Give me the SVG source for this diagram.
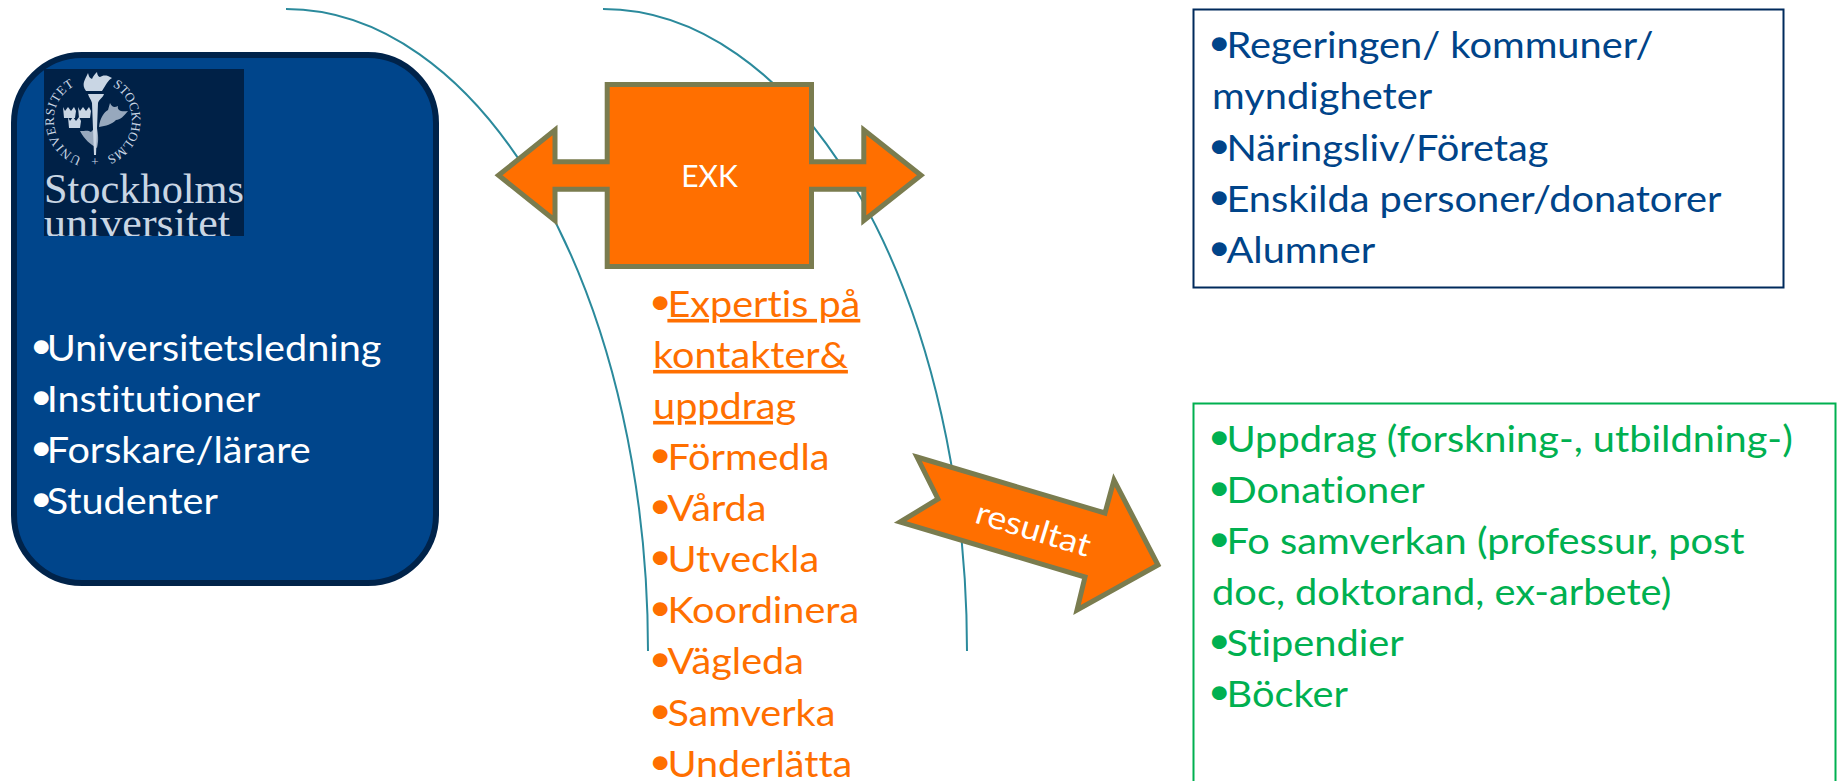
<svg xmlns="http://www.w3.org/2000/svg" width="1837" height="781" viewBox="0 0 1837 781">
<style>
text{font-family:"Lato","Carlito","Liberation Sans",sans-serif;font-size:36px;font-variant-ligatures:none}
.u{text-decoration:underline}
.w{fill:#fff}.b{fill:#004489}.o{fill:#ff6f00}.g{fill:#00b050}
.shape{fill:#ff6f00;stroke:#7a7c4f;stroke-width:5;stroke-linejoin:miter;stroke-miterlimit:8}
.curve{fill:none;stroke:#2b8a9c;stroke-width:2}
.seal{font-family:"Liberation Serif",serif;font-size:13px;fill:#c9d6e4}
.word{font-family:"Liberation Serif",serif;font-size:42px;fill:#c9d6e4}
.lg{fill:#c9d6e4}
</style>
<defs><clipPath id="lc"><rect x="44" y="69" width="200" height="167"/></clipPath>
<path id="sealpath" d="M81.600 157.300A39 39 0 1 1 106.300 156.600"/></defs>
<g id="connectors">
<path class="curve" d="M286 9A362 642 0 0 1 648 651"/>
<path class="curve" d="M603 9A364 642 0 0 1 967 651"/>
</g>
<g id="node-university">
<rect x="14" y="55" width="422" height="528" rx="68" fill="#00458b" stroke="#00234a" stroke-width="6"/>
<g clip-path="url(#lc)">
<rect x="44" y="69" width="200" height="167" fill="#002147"/>
<text class="seal" letter-spacing="0.7"><textPath href="#sealpath">UNIVERSITET</textPath></text>
<text class="seal"><textPath href="#sealpath" startOffset="131">STOCKHOLMS</textPath></text>
<text class="seal" x="95" y="166" text-anchor="middle">+</text>
<path class="lg" d="M88 94H104C103 98 99 99 98 103L96 155H94L92 103C91 99 89 98 88 94Z"/>
<path class="lg" d="M86 91C81 84 85 80 88 73C89 77 90 78 92 79C93 76 95 74 97 72C97 75 99 77 100 77C102 76 104 75 108 76L112 78C108 80 106 85 102 91Z"/>
<path class="lg" opacity=".75" d="M99 127C100 118 104 112 108 110L110 103C112 107 114 108 118 106C117 110 120 112 128 111C124 116 120 120 116 120C112 124 106 126 99 127ZM97 148C90 144 85 140 80 131C86 131 88 130 91 132C94 128 96 130 97 128C98 134 99 140 97 148Z"/>
<path class="lg" d="M63 107l2 4l3-4l3 4l3-4l2 4l-1 7h-11ZM78 107l2 4l3-4l3 4l3-4l2 4l-1 7h-11ZM68 117l2 4l3-4l3 4l3-4l2 4l-1 7h-11Z"/>
<text class="word" x="44" y="203" textLength="200" lengthAdjust="spacingAndGlyphs">Stockholms</text>
<text class="word" x="44" y="237" textLength="186" lengthAdjust="spacingAndGlyphs">universitet</text>
</g>
<g class="w" transform="translate(33 0) scale(1.1 1)">
<text y="361"><tspan x="-3" dy="-3">•</tspan><tspan x="12.500" dy="3">Universitetsledning</tspan></text>
<text y="412"><tspan x="-3" dy="-3">•</tspan><tspan x="12.500" dy="3">Institutioner</tspan></text>
<text y="463"><tspan x="-3" dy="-3">•</tspan><tspan x="12.500" dy="3">Forskare/lärare</tspan></text>
<text y="514"><tspan x="-3" dy="-3">•</tspan><tspan x="12.500" dy="3">Studenter</tspan></text>
</g>
</g>
<g id="node-exk">
<path class="shape" d="M607.200 84.500H811.500V161.800H863.800V130L921 175.300L863.800 220.500V189.200H811.500V266.500H607.200V189.200H555V220.500L498.500 175.300L555 130V161.800H607.200Z"/>
<text class="w" x="709.500" y="187" text-anchor="middle" style="font-size:30px">EXK</text>
</g>
<g id="node-exk-list" class="o" transform="translate(652 0) scale(1.1 1)">
<text y="317"><tspan x="-3" dy="-3">•</tspan><tspan x="14" dy="3" class="u">Expertis på</tspan></text>
<text x="1" y="368" class="u">kontakter&amp;</text>
<text x="1" y="419" class="u">uppdrag</text>
<text y="470"><tspan x="-3" dy="-3">•</tspan><tspan x="14" dy="3">Förmedla</tspan></text>
<text y="521.500"><tspan x="-3" dy="-3">•</tspan><tspan x="14" dy="3">Vårda</tspan></text>
<text y="572.500"><tspan x="-3" dy="-3">•</tspan><tspan x="14" dy="3">Utveckla</tspan></text>
<text y="623.500"><tspan x="-3" dy="-3">•</tspan><tspan x="14" dy="3">Koordinera</tspan></text>
<text y="674.500"><tspan x="-3" dy="-3">•</tspan><tspan x="14" dy="3">Vägleda</tspan></text>
<text y="726"><tspan x="-3" dy="-3">•</tspan><tspan x="14" dy="3">Samverka</tspan></text>
<text y="777"><tspan x="-3" dy="-3">•</tspan><tspan x="14" dy="3">Underlätta</tspan></text>
</g>
<g id="node-resultat">
<path class="shape" d="M917 457L1105 513L1114 480L1158 565L1077 610L1085 577L900 522L938 499Z"/>
<text class="w" transform="translate(1033 530) rotate(17) scale(1.12 1)" text-anchor="middle" y="10" style="font-size:32px">resultat</text>
</g>
<g id="node-stakeholders">
<rect x="1193.500" y="9.500" width="590" height="278" fill="#fff" stroke="#002a5c" stroke-width="2"/>
<g class="b" transform="translate(1211 0) scale(1.105 1)">
<text y="58"><tspan x="-3" dy="-3">•</tspan><tspan x="14" dy="3">Regeringen/ kommuner/</tspan></text>
<text x="1" y="109">myndigheter</text>
<text y="161"><tspan x="-3" dy="-3">•</tspan><tspan x="14" dy="3">Näringsliv/Företag</tspan></text>
<text y="212"><tspan x="-3" dy="-3">•</tspan><tspan x="14" dy="3">Enskilda personer/donatorer</tspan></text>
<text y="263"><tspan x="-3" dy="-3">•</tspan><tspan x="14" dy="3">Alumner</tspan></text>
</g>
</g>
<g id="node-results">
<rect x="1193.500" y="403.500" width="642" height="400" fill="#fff" stroke="#00b050" stroke-width="2"/>
<g class="g" transform="translate(1211 0) scale(1.105 1)">
<text y="452"><tspan x="-3" dy="-3">•</tspan><tspan x="14" dy="3">Uppdrag (forskning-, utbildning-)</tspan></text>
<text y="503"><tspan x="-3" dy="-3">•</tspan><tspan x="14" dy="3">Donationer</tspan></text>
<text y="554"><tspan x="-3" dy="-3">•</tspan><tspan x="14" dy="3">Fo samverkan (professur, post</tspan></text>
<text x="1" y="605">doc, doktorand, ex-arbete)</text>
<text y="656"><tspan x="-3" dy="-3">•</tspan><tspan x="14" dy="3">Stipendier</tspan></text>
<text y="707"><tspan x="-3" dy="-3">•</tspan><tspan x="14" dy="3">Böcker</tspan></text>
</g>
</g>
</svg>
